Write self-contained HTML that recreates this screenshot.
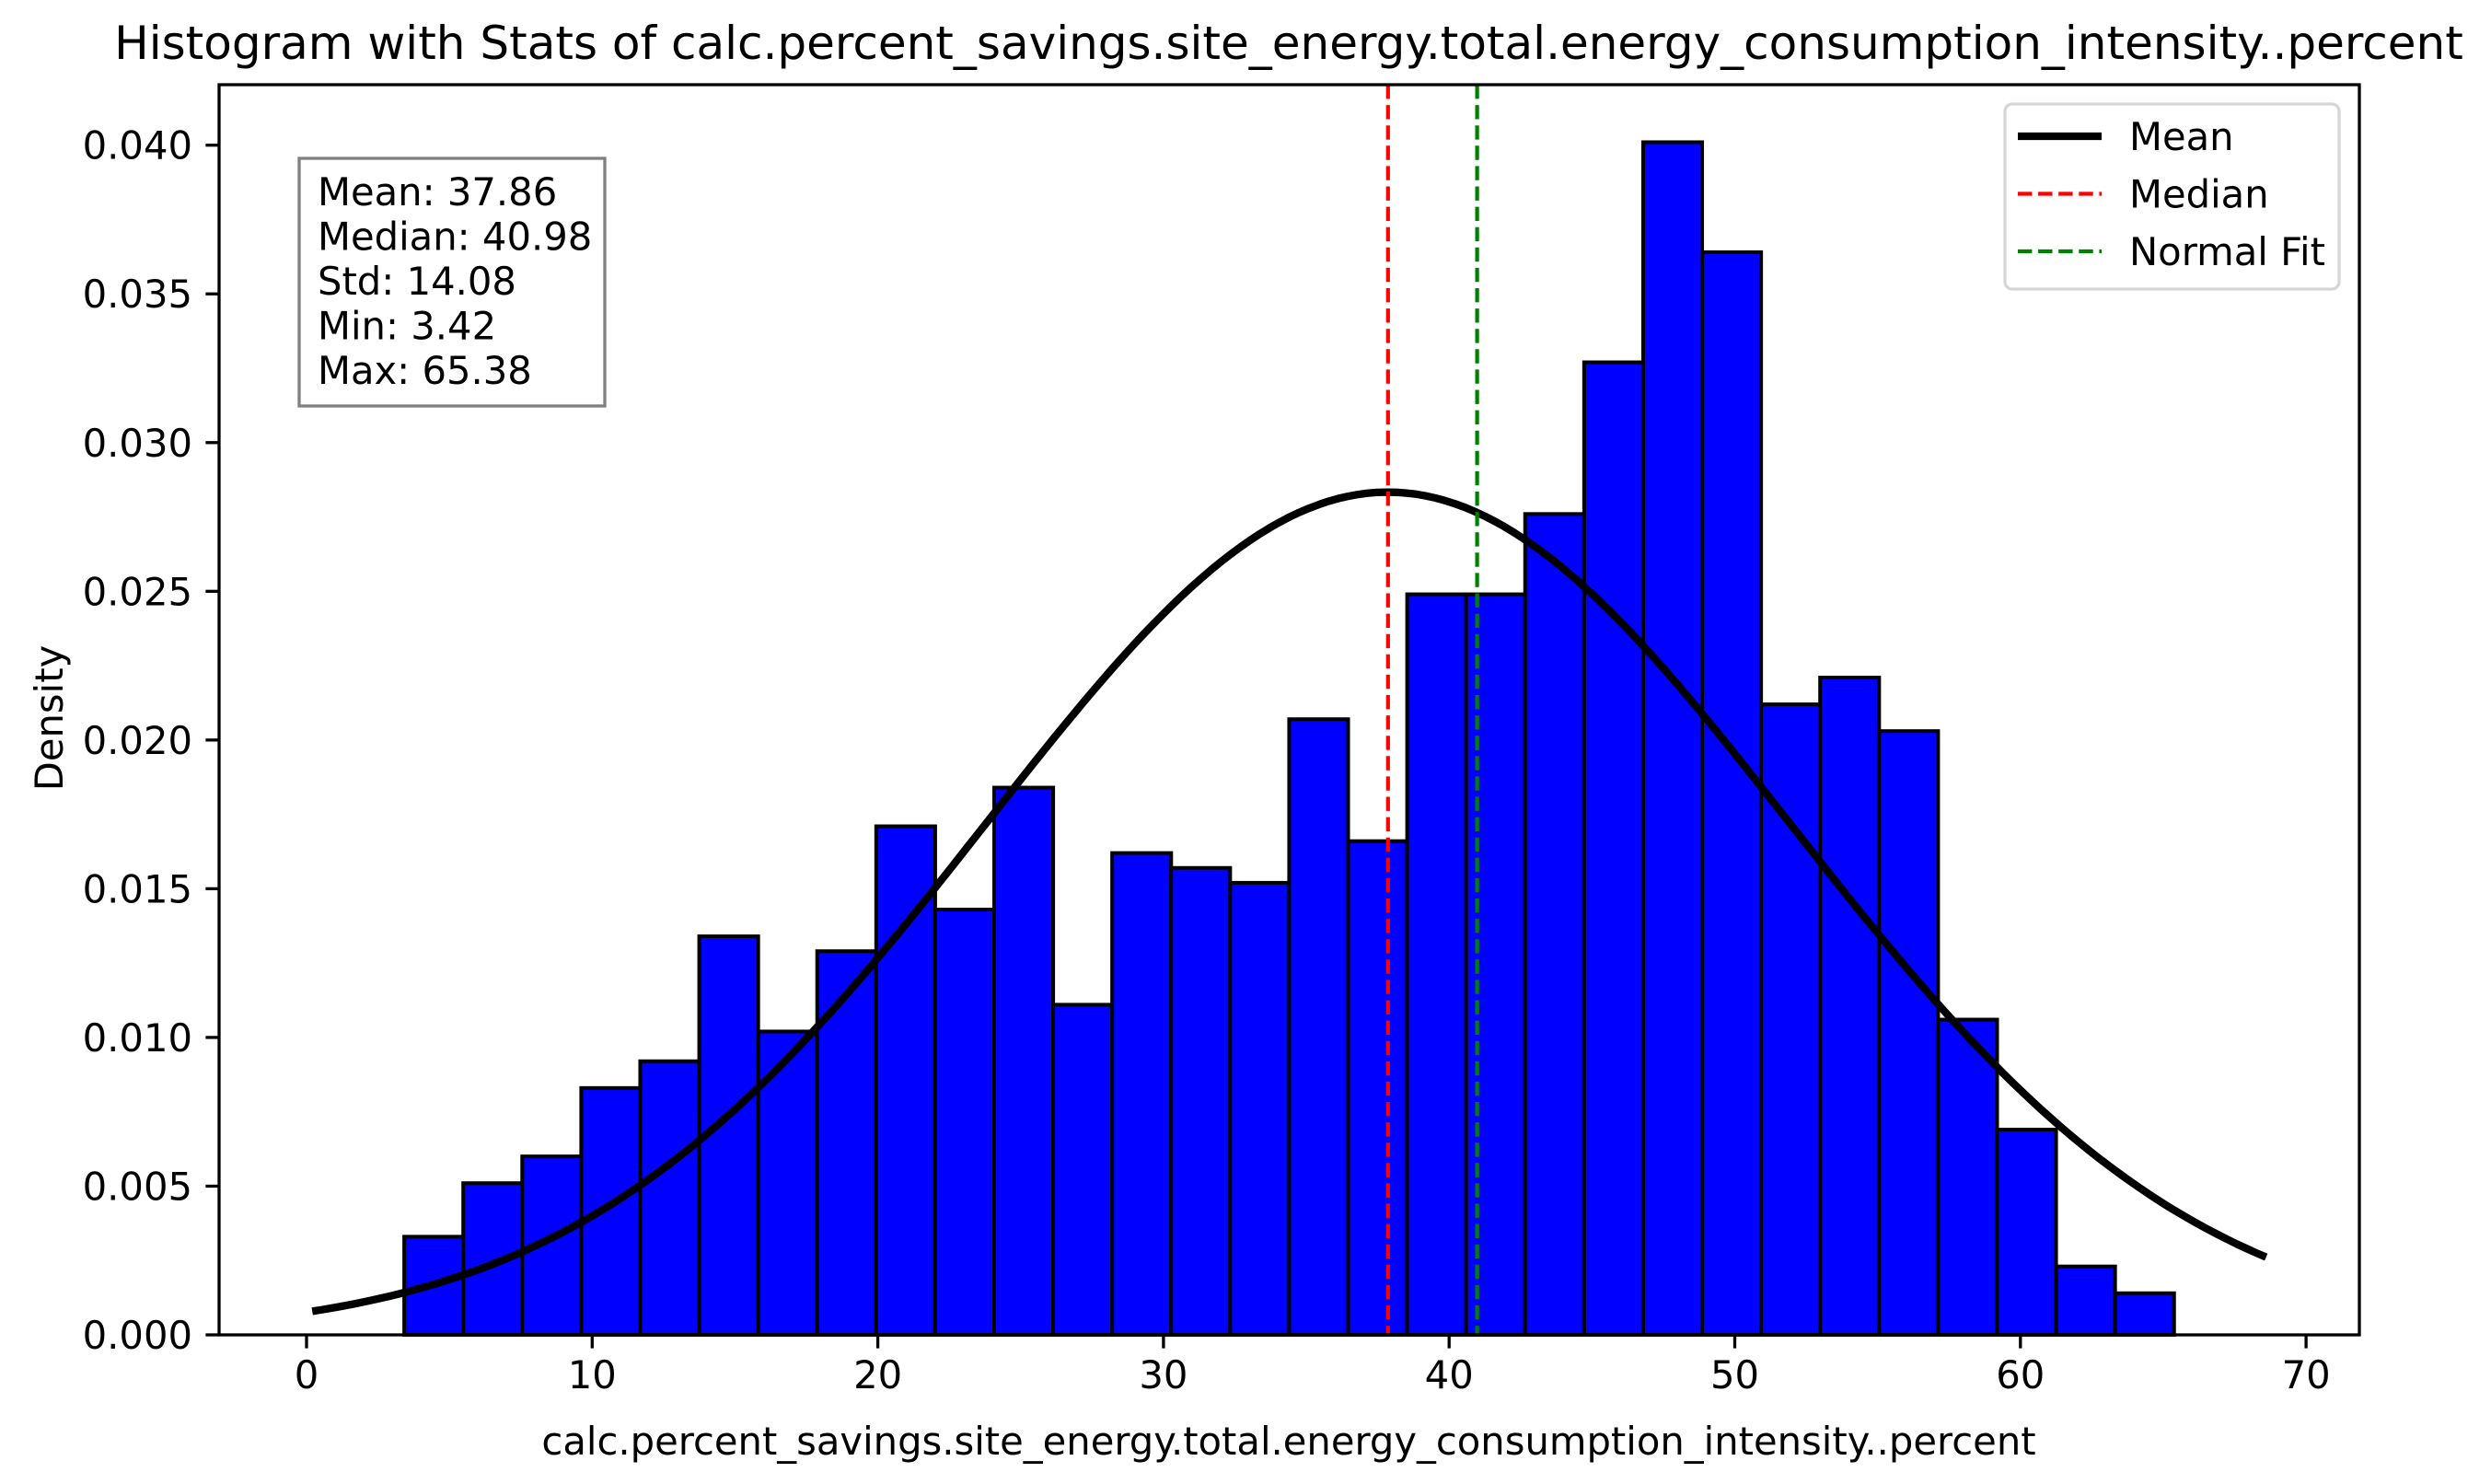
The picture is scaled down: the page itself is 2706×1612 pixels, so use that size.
<!DOCTYPE html>
<html><head><meta charset="utf-8">
<style>
html,body{margin:0;padding:0;background:#fff;}
svg{display:block;font-family:"DejaVu Sans","Liberation Sans",sans-serif;}
</style></head>
<body>
<svg id="chart" width="2706" height="1612" viewBox="0 0 2706 1612" xmlns="http://www.w3.org/2000/svg">
<rect x="0" y="0" width="2706" height="1612" fill="#fff"/>
<text x="1400" y="64" font-size="50" text-anchor="middle">Histogram with Stats of calc.percent_savings.site_energy.total.energy_consumption_intensity..percent</text>
<g id="plot"></g>
<text x="1400" y="1580" font-size="41.7" text-anchor="middle">calc.percent_savings.site_energy.total.energy_consumption_intensity..percent</text>
<text transform="translate(68,780) rotate(-90)" font-size="41.7" text-anchor="middle">Density</text>
</svg>
<script>
const binStart = 3.42;
const binEnd = 65.38;
const densities = [0.0033,0.0051,0.0060,0.0083,0.0092,0.0134,0.0102,0.0129,0.0171,0.0143,0.0184,0.0111,0.0162,0.0157,0.0152,0.0207,0.0166,0.0249,0.0249,0.0276,0.0327,0.0401,0.0364,0.0212,0.0221,0.0203,0.0106,0.0069,0.0023,0.0014];
const meanVal = 37.86;
const medianVal = 40.98;
const stdVal = 14.08;
const xTicks = [0,10,20,30,40,50,60,70];
const yTicks = [0,0.005,0.010,0.015,0.020,0.025,0.030,0.035,0.040];
const yTickLabels = ["0.000","0.005","0.010","0.015","0.020","0.025","0.030","0.035","0.040"];
const curveRange = [0.2, 68.6];

const L=238,R=2563,T=92,B=1450;
const x = v => 333 + v*31.03;
const y = v => 1450 - v*(1450-157.7)/0.04;
const NS="http://www.w3.org/2000/svg";
const g=document.getElementById('plot');
function mk(tag,attrs,parent){const e=document.createElementNS(NS,tag);for(const k in attrs)e.setAttribute(k,attrs[k]);(parent||g).appendChild(e);return e;}

const n=densities.length, w=(binEnd-binStart)/n;
densities.forEach((d,i)=>{
  const x0=x(binStart+i*w), x1=x(binStart+(i+1)*w);
  const r=mk('rect',{x:x0,y:y(d),width:x1-x0,height:y(0)-y(d),fill:'#0000ff',stroke:'#000','stroke-width':4});
  
  
});
// normal curve
let pts=[];
for(let k=0;k<=200;k++){const v=curveRange[0]+(curveRange[1]-curveRange[0])*k/200;
  const d=Math.exp(-0.5*((v-meanVal)/stdVal)**2)/(stdVal*Math.sqrt(2*Math.PI));
  pts.push(x(v).toFixed(1)+','+y(d).toFixed(1));}
const c=mk('polyline',{points:pts.join(' '),fill:'none',stroke:'#000','stroke-width':8.3,'stroke-linejoin':'round'});


const m1=mk('line',{x1:x(meanVal),x2:x(meanVal),y1:T,y2:B,stroke:'#ff0000','stroke-width':4.2,'stroke-dasharray':'15.4 6.7'});


const m2=mk('line',{x1:x(medianVal),x2:x(medianVal),y1:T,y2:B,stroke:'#008000','stroke-width':4.2,'stroke-dasharray':'15.4 6.7'});


// frame
const fr=mk('rect',{x:L,y:T,width:R-L,height:B-T,fill:'none',stroke:'#000','stroke-width':3.3});


xTicks.forEach(t=>{
  const tk=mk('line',{x1:x(t),x2:x(t),y1:B,y2:B+14.6,stroke:'#000','stroke-width':3.3});
  
  
  const tl=mk('text',{x:x(t),y:B+58,'font-size':41.7,'text-anchor':'middle'});
  tl.textContent=t;
  
  
});
yTicks.forEach((t,i)=>{
  const tk=mk('line',{x1:L-14.6,x2:L,y1:y(t),y2:y(t),stroke:'#000','stroke-width':3.3});
  
  
  const tl=mk('text',{x:L-29,y:y(t)+15,'font-size':41.7,'text-anchor':'end'});
  tl.textContent=yTickLabels[i];
  
  
});
// stats box
const sb=mk('g',{});


mk('rect',{x:325,y:172,width:332,height:269,fill:'#fff',stroke:'#808080','stroke-width':3.3},sb);
const statLines=["Mean: "+meanVal.toFixed(2),"Median: "+medianVal.toFixed(2),"Std: "+stdVal.toFixed(2),"Min: 3.42","Max: 65.38"];
statLines.forEach((s,i)=>{const t=mk('text',{x:345,y:223+i*48.5,'font-size':41.7},sb);t.textContent=s;
  
  });
// legend
const lg=mk('g',{});


mk('rect',{x:2178,y:113,width:363,height:201,rx:8,fill:'#fff','fill-opacity':0.8,stroke:'#d6d6d6','stroke-width':3.3},lg);
const legItems=[["Mean","#000",8.3,null],["Median","#ff0000",4.2,"15.4 6.7"],["Normal Fit","#008000",4.2,"15.4 6.7"]];
legItems.forEach((it,i)=>{const yy=148+i*62.5;
  const a={x1:2192,x2:2283,y1:yy,y2:yy,stroke:it[1],'stroke-width':it[2]};if(it[3])a['stroke-dasharray']=it[3];
  const ln=mk('line',a,lg);
  
  
  const t=mk('text',{x:2313,y:yy+15,'font-size':41.7},lg);t.textContent=it[0];
  
  });
</script>
</body></html>
